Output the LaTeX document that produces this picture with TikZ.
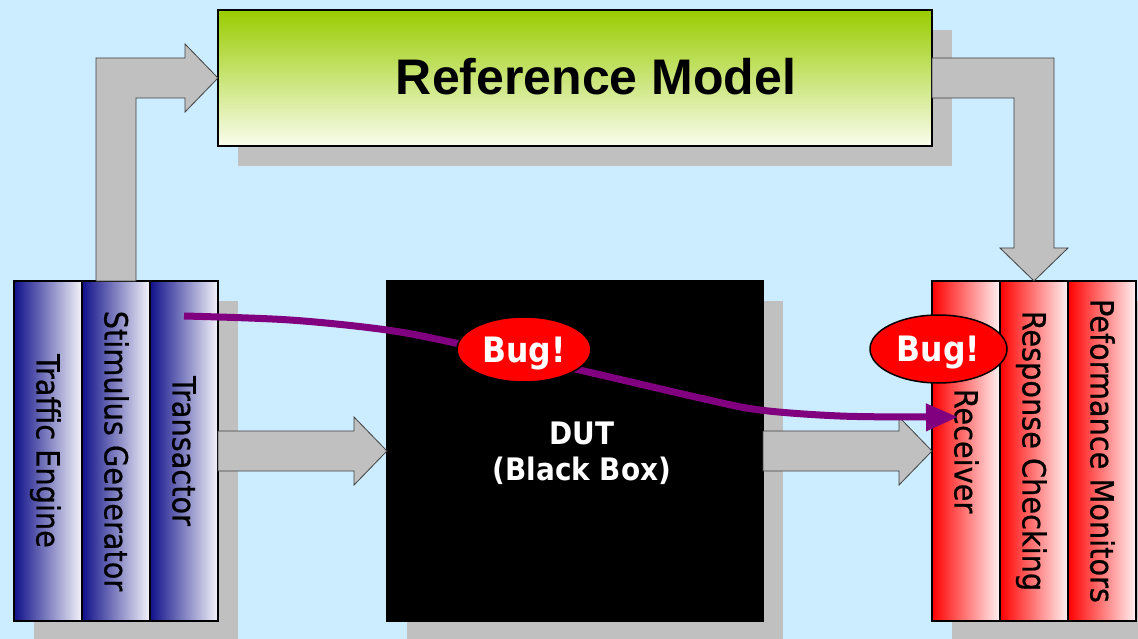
\documentclass[tikz,border=0pt]{standalone}
\usepackage{fontspec}
\setmainfont{DejaVu Sans Condensed}[BoldFont={DejaVu Sans Condensed Bold}]
\newfontfamily\headfont{Liberation Sans}
\newfontfamily\labelfont{DejaVu Sans Condensed}[FakeBold=0.6]
\usetikzlibrary{arrows.meta,shapes.geometric,calc}

\definecolor{skyback}{RGB}{204,236,255}
\definecolor{shadowgray}{RGB}{192,192,192}
\definecolor{arrowedge}{RGB}{64,64,64}
\definecolor{navyend}{RGB}{16,16,138}
\definecolor{bluewhite}{RGB}{244,244,250}
\definecolor{redend}{RGB}{255,0,0}
\definecolor{redwhite}{RGB}{255,242,242}
\definecolor{greentop}{RGB}{153,204,0}
\definecolor{greenbottom}{RGB}{250,253,238}
\definecolor{bugpurple}{RGB}{128,0,128}

\pgfdeclarelayer{backdrop}
\pgfdeclarelayer{shade}
\pgfsetlayers{backdrop,shade,main}

\begin{document}
\begin{tikzpicture}[x=1pt,y=-1pt,
  box/.style={draw=black, line width=1.5pt, inner sep=0pt, outer sep=0pt},
  bluecol/.style={box, minimum width=68pt, minimum height=340pt,
    left color=navyend, right color=bluewhite},
  redcol/.style={box, minimum width=68pt, minimum height=340pt,
    left color=redend, right color=redwhite},
  vlabel/.style={rotate=-90, inner sep=0pt, text height=23pt, text depth=0pt,
    font=\labelfont\fontsize{32}{38}\selectfont},
  blockarrow/.style={fill=shadowgray, draw=arrowedge, line width=0.8pt, line join=miter},
  bugtag/.style={ellipse, draw=black, line width=1.5pt, fill=red, inner sep=0pt,
    text=white, text height=25pt, text depth=0pt,
    font=\fontsize{35}{40}\selectfont\bfseries},
  bugtrail/.style={draw=bugpurple, line width=7pt,
    -{Triangle[length=32pt,width=26pt]}},
  dropshade/.style={fill=shadowgray}
]
\useasboundingbox (0,0) rectangle (1138,639);
\begin{pgfonlayer}{backdrop}
  \fill[skyback] (0,0) rectangle (1138,639);
\end{pgfonlayer}

% main blocks
\node[box, minimum width=714pt, minimum height=136pt,
  top color=greentop, bottom color=greenbottom] (ref) at (575,78) {};
\node[font=\headfont\bfseries\fontsize{50}{58}\selectfont, anchor=base]
  (reftext) at (596,95) {Reference Model};

\node[bluecol] (te) at (48,451) {};
\node[bluecol] (sg) at (116,451) {};
\node[bluecol] (tr) at (184,451) {};

\node[box, fill=black, minimum width=376pt, minimum height=340pt] (dut) at (575,451) {};
\node[text=white, align=center, inner sep=0pt,
  font=\fontsize{31}{36}\selectfont\bfseries] (duttext) at (582,453) {DUT\\(Black Box)};

\node[redcol] (rx) at (966,451) {};
\node[redcol] (rc) at (1034,451) {};
\node[redcol] (pm) at (1102,451) {};

% column labels
\node[vlabel] at (te) {Traffic Engine};
\node[vlabel] at (sg) {Stimulus Generator};
\node[vlabel] at (tr) {Transactor};
\node[vlabel] at (rx) {Receiver};
\node[vlabel] at (rc) {Response Checking};
\node[vlabel] at (pm) {Peformance Monitors};

% drop shadows
\begin{pgfonlayer}{shade}
  \fill[dropshade] ([xshift=20pt,yshift=-20pt]ref.north west) rectangle ([xshift=20pt,yshift=-20pt]ref.south east);
  \fill[dropshade] ([xshift=20pt,yshift=-20pt]te.north west) rectangle ([xshift=20pt,yshift=-20pt]tr.south east);
  \fill[dropshade] ([xshift=20pt,yshift=-20pt]dut.north west) rectangle ([xshift=20pt,yshift=-20pt]dut.south east);
  \fill[dropshade] ([xshift=20pt,yshift=-20pt]rx.north west) rectangle ([xshift=20pt,yshift=-20pt]pm.south east);
\end{pgfonlayer}

% block arrows
\draw[blockarrow] ([xshift=-20pt]sg.north) |- ([xshift=-33pt,yshift=20pt]ref.west)
  -- ([xshift=-33pt,yshift=34pt]ref.west) -- (ref.west)
  -- ([xshift=-33pt,yshift=-34pt]ref.west) -- ([xshift=-33pt,yshift=-20pt]ref.west)
  -| ([xshift=20pt]sg.north) -- cycle;

\draw[blockarrow] ([yshift=20pt]ref.east) -| ([xshift=20pt,yshift=33pt]rc.north)
  -- ([xshift=34pt,yshift=33pt]rc.north) -- (rc.north)
  -- ([xshift=-34pt,yshift=33pt]rc.north) -- ([xshift=-20pt,yshift=33pt]rc.north)
  |- ([yshift=-20pt]ref.east) -- cycle;

\draw[blockarrow] ([yshift=20pt]tr.east) -- ([xshift=-33pt,yshift=20pt]dut.west)
  -- ([xshift=-33pt,yshift=34pt]dut.west) -- (dut.west)
  -- ([xshift=-33pt,yshift=-34pt]dut.west) -- ([xshift=-33pt,yshift=-20pt]dut.west)
  -- ([yshift=-20pt]tr.east) -- cycle;

\draw[blockarrow] ([yshift=20pt]dut.east) -- ([xshift=-33pt,yshift=20pt]rx.west)
  -- ([xshift=-33pt,yshift=34pt]rx.west) -- (rx.west)
  -- ([xshift=-33pt,yshift=-34pt]rx.west) -- ([xshift=-33pt,yshift=-20pt]rx.west)
  -- ([yshift=-20pt]dut.east) -- cycle;

% path of the bug from the transactor to the receiver
\coordinate (bugstart) at (184,316);
\coordinate (bugend) at (958,417);
\draw[bugtrail] plot[smooth, tension=0.55] coordinates {(bugstart) (290,320) (387,330)
  (460,344) (575,369) (700,398) (760,410) (840,416) (926,417) (bugend)};

% bug markers
\node[bugtag, minimum width=134pt, minimum height=65pt] (bugdut) at (524,349.5) {Bug!};
\node[bugtag, minimum width=137pt, minimum height=68pt] (bugrx) at (938.5,349) {Bug!};
\end{tikzpicture}
\end{document}
